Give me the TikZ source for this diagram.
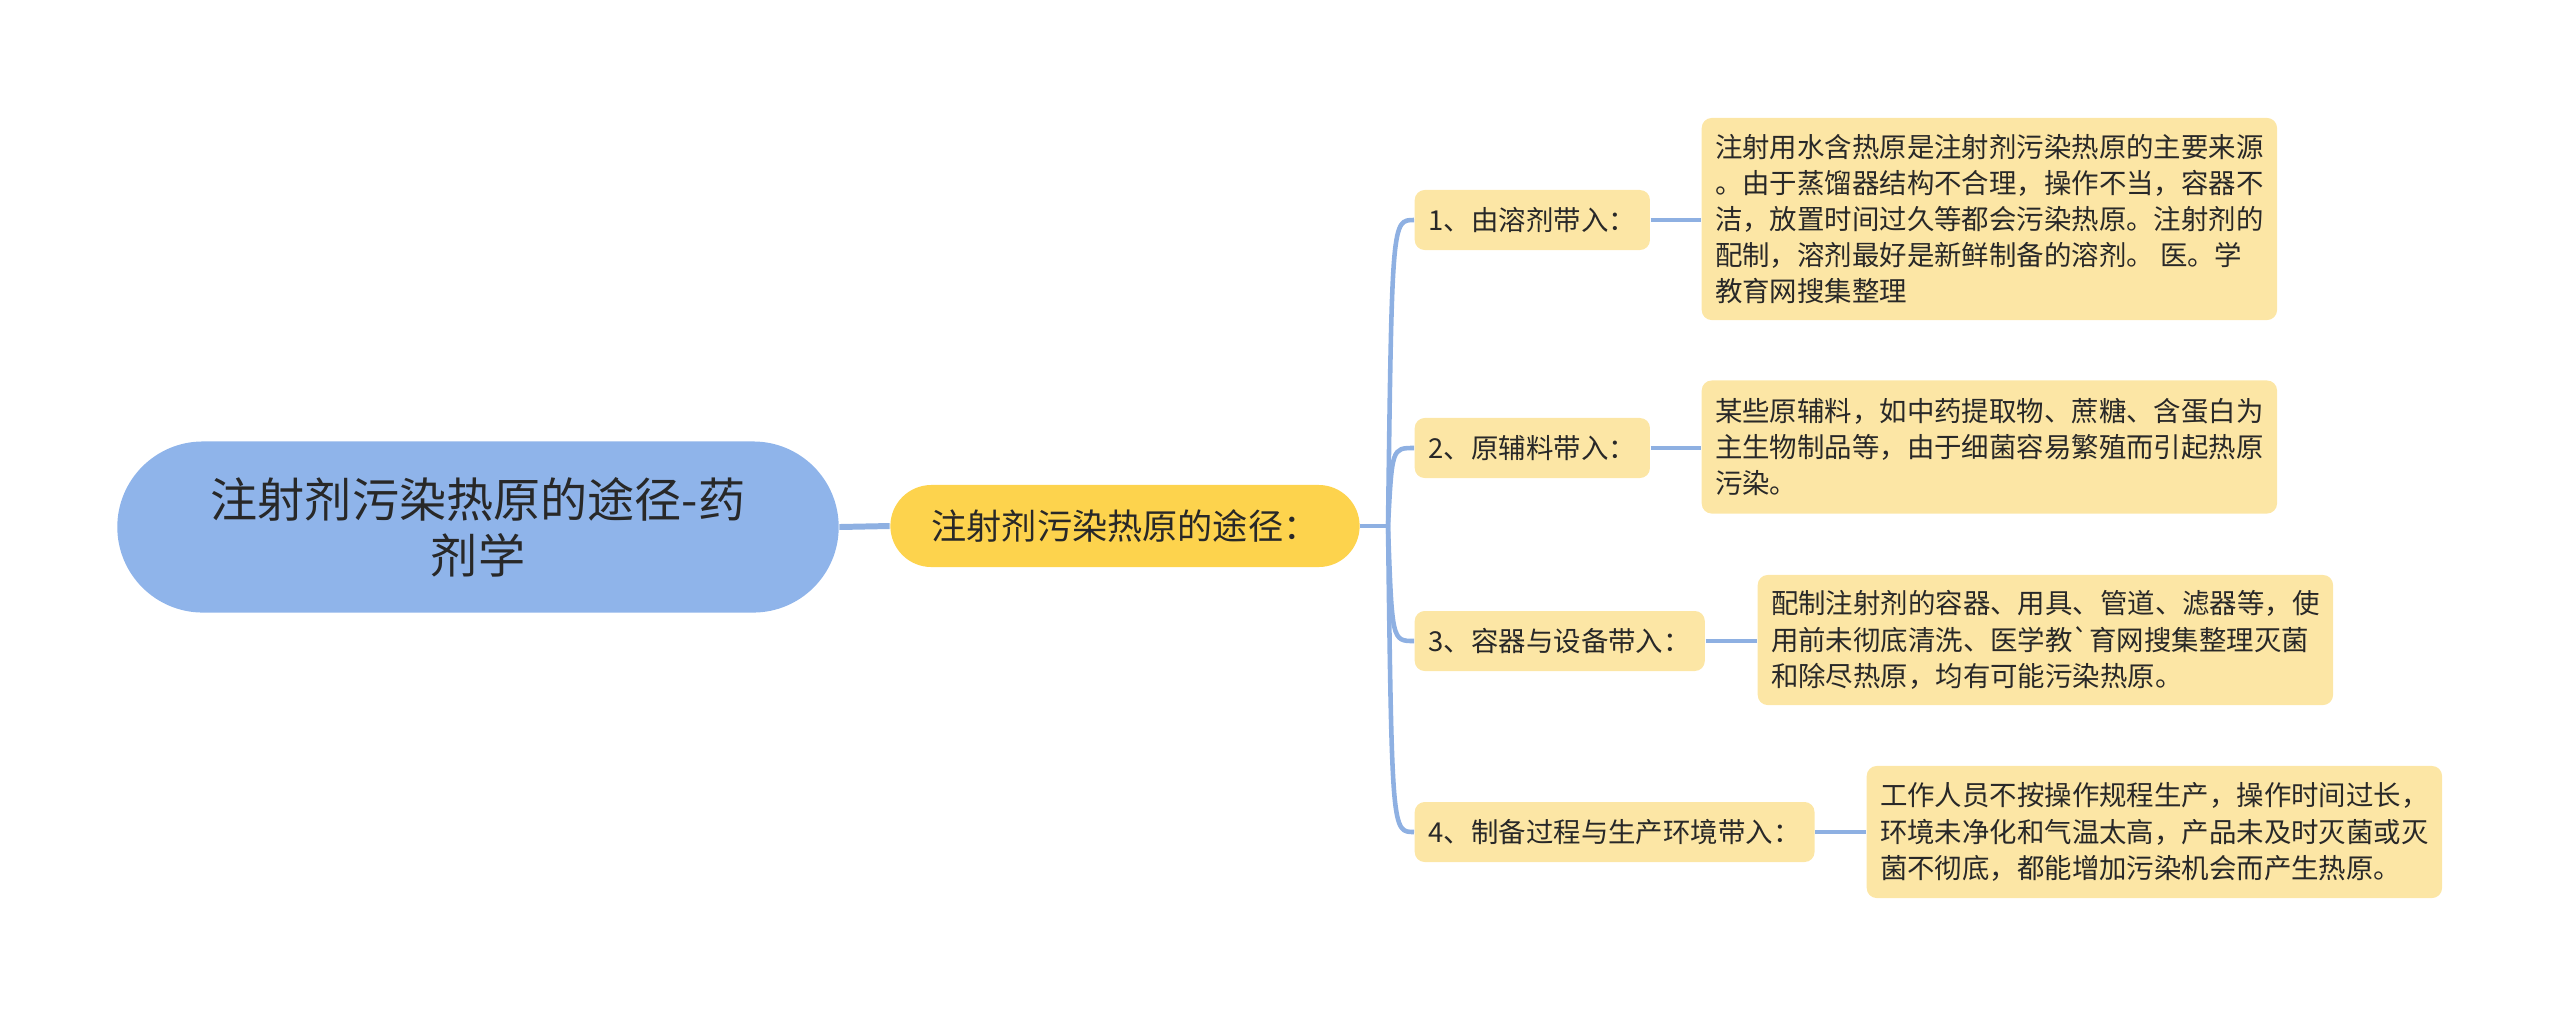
\documentclass[tikz,border=0pt]{standalone}
\usepackage{fontspec}
\setmainfont{Noto Sans CJK SC}
\usepackage{xcolor}
\usepackage{tikz}
\usetikzlibrary{positioning,calc}

\definecolor{rootblue}{RGB}{143,180,234}
\definecolor{topicgold}{RGB}{253,211,77}
\definecolor{paleyellow}{RGB}{252,230,165}
\definecolor{linkblue}{RGB}{142,176,226}
\definecolor{textgray}{RGB}{40,40,40}

\begin{document}
\begin{tikzpicture}[
    x=0.01cm, y=-0.01cm,
    rootnode/.style={
        fill=rootblue,
        rounded corners=0.855cm,
        minimum width=7.21cm,
        minimum height=1.71cm,
        align=center,
        text=textgray,
        font=\fontsize{13.4pt}{16pt}\selectfont
    },
    topicnode/.style={
        fill=topicgold,
        rounded corners=0.41cm,
        minimum width=4.69cm,
        minimum height=0.82cm,
        text=textgray,
        font=\fontsize{10pt}{12pt}\selectfont
    },
    subnode/.style={
        fill=paleyellow,
        rounded corners=0.1cm,
        anchor=west,
        inner xsep=0.14cm,
        minimum height=0.6cm,
        text=textgray,
        font=\fontsize{7.8pt}{10.3pt}\selectfont
    },
    detail/.style={
        fill=paleyellow,
        rounded corners=0.1cm,
        anchor=west,
        inner xsep=0.13cm,
        minimum width=5.75cm,
        align=left,
        text=textgray,
        font=\fontsize{7.8pt}{10.3pt}\selectfont
    },
    link/.style={draw=linkblue, line width=1.3pt}
]

\useasboundingbox (0,0) rectangle (2560,1017);

% Root and main topic
\node[rootnode] (root) at (478,527) {注射剂污染热原的途径-药\\剂学};
\node[topicnode] (topic) at (1125,526) {注射剂污染热原的途径：};
\draw[link, line width=1.7pt] (root.east) -- (topic.west);

% Sub topics
\node[subnode] (c1) at (1414,220) {1、由溶剂带入：};
\node[subnode] (c2) at (1414,448) {2、原辅料带入：};
\node[subnode] (c3) at (1414,641) {3、容器与设备带入：};
\node[subnode] (c4) at (1414,832) {4、制备过程与生产环境带入：};

% Branches
\coordinate (jn) at (1388,526);
\draw[link] (topic.east) -- (jn);
\foreach \c in {c1,c2,c3,c4}{
    \draw[link] (jn) .. controls ($(jn |- \c.west)+(4,0)$) and ($(jn |- \c.west)+(4,0)$) .. (\c.west);
}

% Details
\node[detail, minimum height=2.02cm] (d1) at (1701,219)
    {注射用水含热原是注射剂污染热原的主要来源\\。由于蒸馏器结构不合理，操作不当，容器不\\洁，放置时间过久等都会污染热原。注射剂的\\配制，溶剂最好是新鲜制备的溶剂。 医。学\\教育网搜集整理};
\node[detail, minimum height=1.33cm] (d2) at (1701,447)
    {某些原辅料，如中药提取物、蔗糖、含蛋白为\\主生物制品等，由于细菌容易繁殖而引起热原\\污染。};
\node[detail, minimum height=1.30cm] (d3) at (1757,640)
    {配制注射剂的容器、用具、管道、滤器等，使\\用前未彻底清洗、医学教\textasciigrave 育网搜集整理灭菌\\和除尽热原，均有可能污染热原。};
\node[detail, minimum height=1.32cm] (d4) at (1866,832)
    {工作人员不按操作规程生产，操作时间过长，\\环境未净化和气温太高，产品未及时灭菌或灭\\菌不彻底，都能增加污染机会而产生热原。};

\draw[link] (c1.east) -- (c1.east -| d1.west);
\draw[link] (c2.east) -- (c2.east -| d2.west);
\draw[link] (c3.east) -- (c3.east -| d3.west);
\draw[link] (c4.east) -- (c4.east -| d4.west);

\end{tikzpicture}
\end{document}
